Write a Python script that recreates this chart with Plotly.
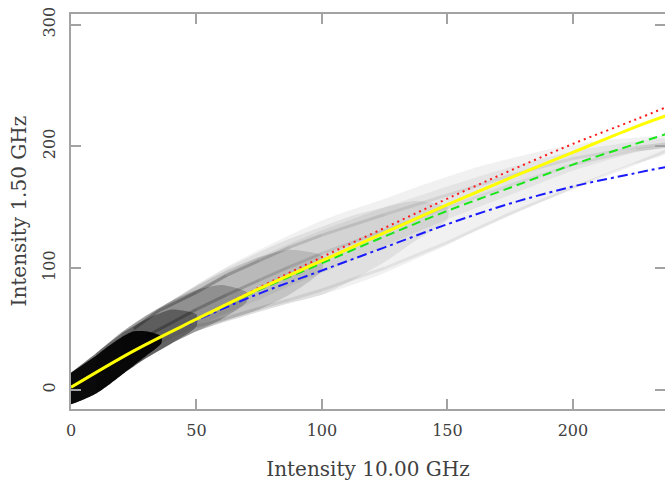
import plotly.graph_objects as go

# ---- fitted relations ----
fit_x = [0, 25, 50, 75, 100, 125, 150, 175, 200, 225, 237]
red_y = [2, 32, 58, 84, 109, 133, 157, 180, 202, 222, 232]
yellow_y = [2, 32, 58, 83, 106, 129, 152, 174, 195, 216, 225]
green_y = [2, 32, 58, 82, 104, 126, 147, 166, 185, 202, 210]
blue_y = [2, 32, 57, 79, 98, 117, 136, 153, 167, 178, 183]

# ---- pixel-density cloud (grey), read as nested outlines ----
env_x = [0, 5, 10, 15, 20, 25, 30, 40, 50, 62, 75, 87, 100, 112, 125, 137, 150, 162, 175, 187, 200, 212, 225, 237]
env_top = [14, 22, 30, 38, 46, 53, 60, 73, 86, 101, 115, 127, 139, 148, 157, 166, 175, 183, 190, 196, 201, 205, 207, 208]
env_bot = [-12, -8, -3, 4, 12, 19, 26, 38, 48, 56, 64, 71, 78, 86, 96, 107, 119, 131, 143, 154, 165, 176, 186, 194]

body_x = [10, 20, 30, 40, 50, 62, 75, 87, 100, 125, 150, 175, 200, 225, 237]
body_top = [27, 43, 57, 70, 82, 96, 109, 120, 131, 150, 167, 183, 196, 204, 206]
body_bot = [12, 22, 32, 42, 52, 63, 74, 85, 96, 118, 140, 160, 180, 195, 200]

shade_d_x = [20, 30, 40, 50, 62, 75, 87, 100, 112, 125, 137, 150]
shade_d_top = [47, 61, 73, 86, 100, 113, 124, 134, 143, 150, 155, 150]
shade_d_bot = [12, 26, 38, 48, 56, 64, 71, 78, 90, 105, 122, 140]

shade_c_x = [10, 20, 30, 40, 50, 62, 75, 87, 100]
shade_c_top = [30, 47, 61, 73, 85, 98, 109, 115, 110]
shade_c_bot = [-3, 12, 26, 38, 48, 57, 66, 78, 98]

shade_b_x = [0, 10, 20, 30, 40, 50, 60, 70]
shade_b_top = [14, 30, 47, 61, 73, 82, 86, 80]
shade_b_bot = [-12, -3, 12, 26, 38, 48, 58, 72]

shade_a_x = [0, 10, 20, 30, 40, 50]
shade_a_top = [14, 30, 46, 58, 66, 62]
shade_a_bot = [-12, -3, 12, 26, 38, 52]

core_x = [0, 5, 10, 15, 20, 25, 30, 36]
core_top = [14, 21, 28, 36, 43, 48, 48, 44]
core_bot = [-12, -8, -3, 4, 12, 20, 28, 38]

ridge1_x = [25, 35, 50, 62, 75, 87, 100, 125, 150, 175, 200, 225, 237]
ridge1_y = [50, 65, 80, 94, 106, 117, 127, 144, 160, 176, 190, 199, 202]
ridge2_x = [30, 40, 50, 62, 75, 87, 100, 125, 150, 175, 200, 225, 237]
ridge2_y = [44, 55, 66, 78, 90, 101, 112, 131, 150, 168, 185, 197, 200]
ridge3_x = [50, 62, 75, 87, 100, 125, 150, 175, 200, 225, 237]
ridge3_y = [52, 59, 67, 74, 82, 100, 121, 145, 166, 186, 196]

x_ticks = [0, 50, 100, 150, 200]
y_ticks = [0, 100, 200, 300]

fig = go.Figure()


def band(xs, top, bot, color):
    fig.add_trace(go.Scatter(
        x=list(xs) + list(xs)[::-1], y=list(top) + list(bot)[::-1],
        fill="toself", fillcolor=color, mode="lines",
        line=dict(width=0, shape="spline", smoothing=0.6),
        hoverinfo="skip", showlegend=False))


def ridge(xs, ys, alphas, width=3):
    # consecutive segments of the same streak, fading with distance
    for i in range(len(xs) - 1):
        fig.add_trace(go.Scatter(
            x=xs[i:i + 2], y=ys[i:i + 2], mode="lines",
            line=dict(color="rgba(0,0,0,%.3f)" % alphas[i], width=width),
            hoverinfo="skip", showlegend=False))


band(env_x, env_top, env_bot, "rgba(0,0,0,0.055)")
band(body_x, body_top, body_bot, "rgba(0,0,0,0.05)")
band(shade_d_x, shade_d_top, shade_d_bot, "rgba(0,0,0,0.07)")
band(shade_c_x, shade_c_top, shade_c_bot, "rgba(0,0,0,0.12)")
band(shade_b_x, shade_b_top, shade_b_bot, "rgba(0,0,0,0.22)")
band(shade_a_x, shade_a_top, shade_a_bot, "rgba(0,0,0,0.35)")
band(core_x, core_top, core_bot, "rgba(0,0,0,0.92)")

r1_alpha = [0.30, 0.28, 0.24, 0.20, 0.16, 0.13, 0.10, 0.08, 0.07, 0.07, 0.08, 0.10]
r2_alpha = [0.28, 0.26, 0.22, 0.18, 0.15, 0.12, 0.09, 0.07, 0.06, 0.06, 0.07, 0.10]
r3_alpha = [0.12, 0.10, 0.09, 0.08, 0.07, 0.06, 0.06, 0.06, 0.06, 0.07]
ridge(ridge1_x, ridge1_y, r1_alpha)
ridge(ridge2_x, ridge2_y, r2_alpha)
ridge(ridge3_x, ridge3_y, r3_alpha)

fig.add_trace(go.Scatter(x=fit_x, y=red_y, mode="lines",
                         line=dict(color="#ff1a1a", width=2, dash="2px,4px", shape="spline"),
                         showlegend=False))
fig.add_trace(go.Scatter(x=fit_x, y=green_y, mode="lines",
                         line=dict(color="#19e619", width=2, dash="9px,5px", shape="spline"),
                         showlegend=False))
fig.add_trace(go.Scatter(x=fit_x, y=blue_y, mode="lines",
                         line=dict(color="#1a1aff", width=2, dash="10px,4px,3px,4px", shape="spline"),
                         showlegend=False))
fig.add_trace(go.Scatter(x=fit_x, y=yellow_y, mode="lines",
                         line=dict(color="#ffff00", width=3, shape="spline"),
                         showlegend=False))
# invisible trace carrying the right-hand tick axis
fig.add_trace(go.Scatter(x=[0], y=[0], yaxis="y2", mode="markers",
                         marker=dict(opacity=0), hoverinfo="skip", showlegend=False))

font_family = "DejaVu Serif"
axis_col = "#a3a3a3"
txt_col = "#404040"

fig.update_layout(
    width=665, height=485,
    margin=dict(l=71, r=0, t=14, b=76),
    paper_bgcolor="white", plot_bgcolor="white",
    font=dict(family=font_family, color=txt_col, size=16),
    xaxis=dict(
        range=[0, 236.7], tickvals=x_ticks, ticktext=[str(v) for v in x_ticks],
        ticks="inside", ticklen=10, tickwidth=2, tickcolor=axis_col,
        showline=True, linecolor=axis_col, linewidth=2, mirror="ticks",
        showgrid=False, zeroline=False, ticklabelstandoff=6, automargin=False,
        tickfont=dict(size=16, family=font_family, color=txt_col),
        title=dict(text="Intensity 10.00 GHz", standoff=23,
                   font=dict(size=20, family=font_family, color=txt_col)),
    ),
    yaxis=dict(
        range=[-15.8, 308.7], tickvals=y_ticks, ticktext=[str(v) for v in y_ticks],
        ticks="inside", ticklen=10, tickwidth=2, tickcolor=axis_col,
        showline=True, linecolor=axis_col, linewidth=2, mirror=False,
        showgrid=False, zeroline=False, tickangle=-90, ticklabelstandoff=8,
        automargin=False,
        tickfont=dict(size=16, family=font_family, color=txt_col),
    ),
    yaxis2=dict(
        overlaying="y", side="right", matches="y", range=[-15.8, 308.7],
        tickvals=y_ticks, showticklabels=False, automargin=False,
        ticks="inside", ticklen=10, tickwidth=2, tickcolor=axis_col,
        showline=False, showgrid=False, zeroline=False,
    ),
    annotations=[dict(
        text="Intensity 1.50 GHz", xref="paper", yref="paper",
        x=-53 / 594, y=0.5, xanchor="center", yanchor="middle",
        textangle=-90, showarrow=False,
        font=dict(size=20, family=font_family, color=txt_col),
    )],
)

fig.write_html("out.html",
               config={"displayModeBar": False},
               post_script="document.body.style.margin='0';document.body.style.overflow='hidden';")
